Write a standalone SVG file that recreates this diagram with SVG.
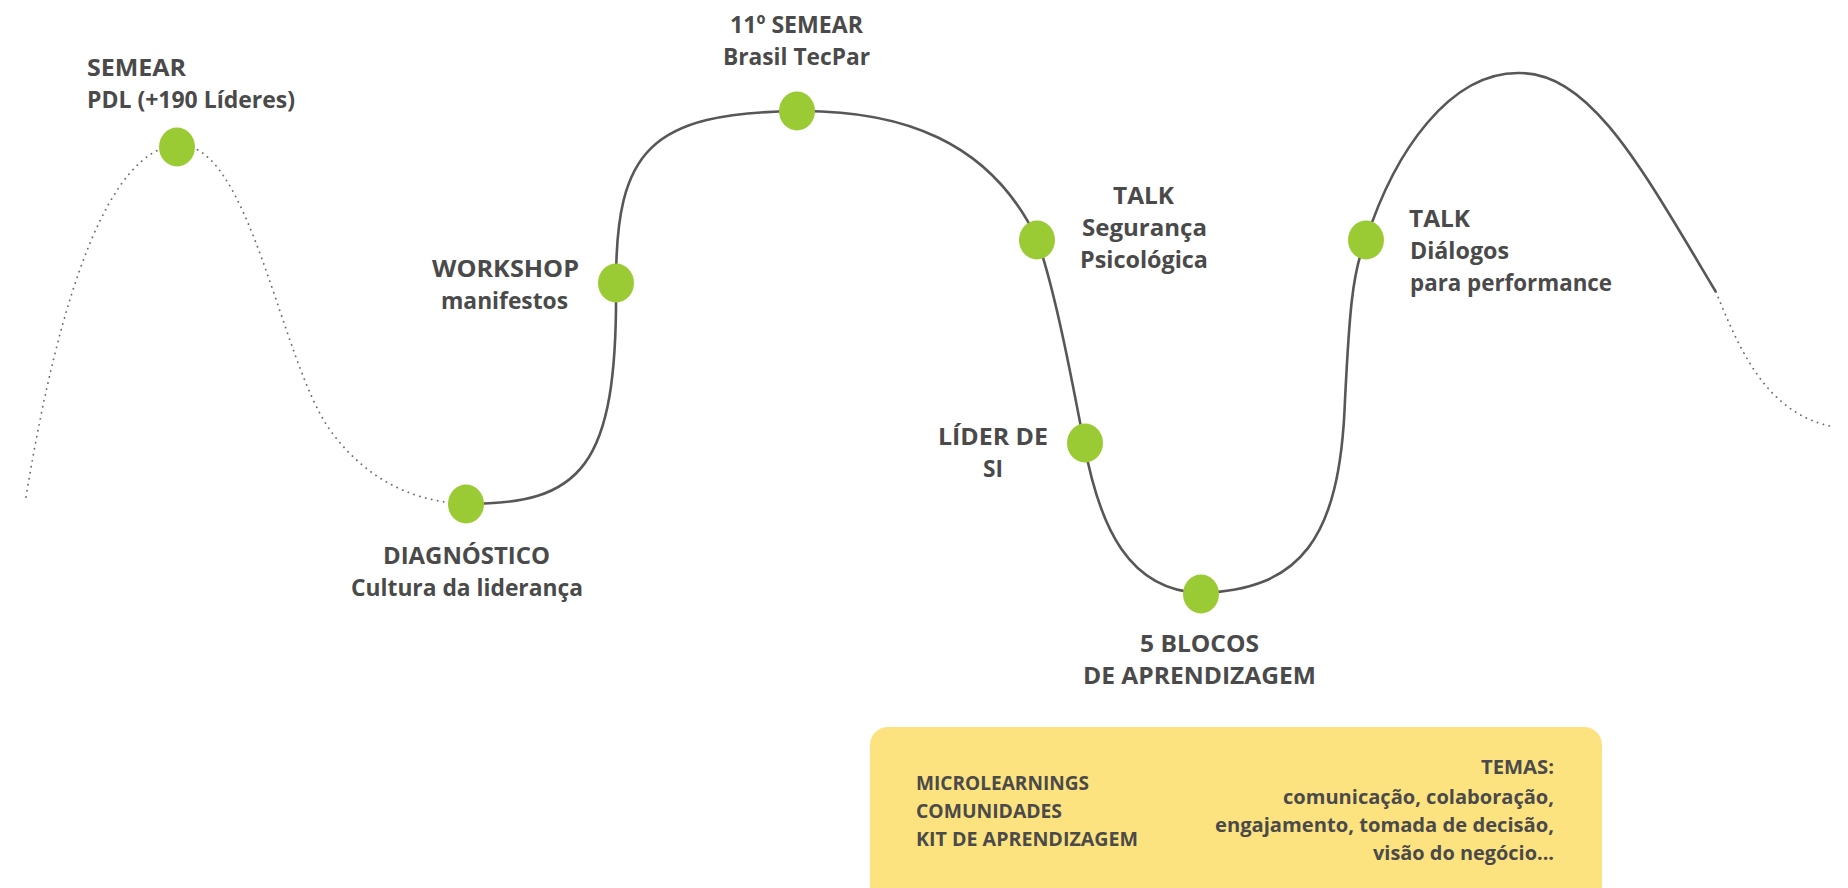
<svg xmlns="http://www.w3.org/2000/svg" width="1848" height="888" viewBox="0 0 1848 888">
<style>
.lbl{font-family:"Open Sans","Liberation Sans",sans-serif;font-weight:700;font-size:24px;fill:#4a4a4a}
.box{font-family:"Open Sans","Liberation Sans",sans-serif;font-weight:700;font-size:20px;fill:#4a4a4a}
.dot{fill:#9bcb34}
.solid{fill:none;stroke:#575757;stroke-width:2.6}
.dotted{fill:none;stroke:#6a6a6a;stroke-width:1.8;stroke-dasharray:0.1 6;stroke-linecap:round}
</style>
<rect width="1848" height="888" fill="#ffffff"/>
<g id="connectors">
<path class="dotted" d="M26,497 C60,290 110,150 177,145 C250,140 280,360 330,430 C370,485 420,502 466,504"/>
<path class="solid" d="M466,504 C580,504 618,470 616,283 C616,150 650,113 797,111 C900,110 990,140 1037,239 C1055,290 1072,380 1084,443 C1100,530 1130,590 1200,593 C1300,590 1340,540 1345,400 C1349,320 1352,270 1366,240 C1395,150 1450,73 1518,73 C1590,72 1640,165 1716,292"/>
<path class="dotted" d="M1716,292 C1738,345 1765,415 1835,427"/>
</g>
<g id="n-semear">
<ellipse class="dot" cx="177" cy="147" rx="18" ry="19.5"/>
<text class="lbl" x="87" y="76" textLength="99" lengthAdjust="spacingAndGlyphs">SEMEAR</text>
<text class="lbl" x="87" y="108" textLength="208" lengthAdjust="spacingAndGlyphs">PDL (+190 Líderes)</text>
</g>
<g id="n-diagnostico">
<ellipse class="dot" cx="466" cy="504" rx="18" ry="19.5"/>
<text class="lbl" x="383" y="564" textLength="167" lengthAdjust="spacingAndGlyphs">DIAGNÓSTICO</text>
<text class="lbl" x="351" y="596" textLength="232" lengthAdjust="spacingAndGlyphs">Cultura da liderança</text>
</g>
<g id="n-workshop">
<ellipse class="dot" cx="616" cy="283" rx="18" ry="19.5"/>
<text class="lbl" x="432" y="277" textLength="147" lengthAdjust="spacingAndGlyphs">WORKSHOP</text>
<text class="lbl" x="441" y="309" textLength="127" lengthAdjust="spacingAndGlyphs">manifestos</text>
</g>
<g id="n-11semear">
<ellipse class="dot" cx="797" cy="111" rx="18" ry="19.5"/>
<text class="lbl" x="730" y="33" textLength="133" lengthAdjust="spacingAndGlyphs">11º SEMEAR</text>
<text class="lbl" x="723" y="65" textLength="147" lengthAdjust="spacingAndGlyphs">Brasil TecPar</text>
</g>
<g id="n-talk-seguranca">
<ellipse class="dot" cx="1037" cy="240" rx="18" ry="19.5"/>
<text class="lbl" x="1113" y="204" textLength="61" lengthAdjust="spacingAndGlyphs">TALK</text>
<text class="lbl" x="1082" y="236" textLength="125" lengthAdjust="spacingAndGlyphs">Segurança</text>
<text class="lbl" x="1080" y="268" textLength="128" lengthAdjust="spacingAndGlyphs">Psicológica</text>
</g>
<g id="n-lider">
<ellipse class="dot" cx="1085" cy="443" rx="18" ry="19.5"/>
<text class="lbl" x="938" y="445" textLength="110" lengthAdjust="spacingAndGlyphs">LÍDER DE</text>
<text class="lbl" x="983" y="477" textLength="20" lengthAdjust="spacingAndGlyphs">SI</text>
</g>
<g id="n-blocos">
<ellipse class="dot" cx="1201" cy="594" rx="18" ry="19.5"/>
<text class="lbl" x="1140" y="652" textLength="119" lengthAdjust="spacingAndGlyphs">5 BLOCOS</text>
<text class="lbl" x="1083" y="684" textLength="233" lengthAdjust="spacingAndGlyphs">DE APRENDIZAGEM</text>
</g>
<g id="n-talk-dialogos">
<ellipse class="dot" cx="1366" cy="240" rx="18" ry="19.5"/>
<text class="lbl" x="1409" y="227" textLength="61" lengthAdjust="spacingAndGlyphs">TALK</text>
<text class="lbl" x="1410" y="259" textLength="99" lengthAdjust="spacingAndGlyphs">Diálogos</text>
<text class="lbl" x="1410" y="291" textLength="202" lengthAdjust="spacingAndGlyphs">para performance</text>
</g>
<g id="n-box">
<rect x="870" y="727" width="732" height="180" rx="18" fill="#fde37f"/>
<text class="box" x="916" y="790" textLength="173" lengthAdjust="spacingAndGlyphs">MICROLEARNINGS</text>
<text class="box" x="916" y="818" textLength="146" lengthAdjust="spacingAndGlyphs">COMUNIDADES</text>
<text class="box" x="916" y="846" textLength="222" lengthAdjust="spacingAndGlyphs">KIT DE APRENDIZAGEM</text>
<text class="box" x="1481" y="774" textLength="73" lengthAdjust="spacingAndGlyphs">TEMAS:</text>
<text class="box" x="1283" y="804" textLength="271" lengthAdjust="spacingAndGlyphs">comunicação, colaboração,</text>
<text class="box" x="1215" y="832" textLength="339" lengthAdjust="spacingAndGlyphs">engajamento, tomada de decisão,</text>
<text class="box" x="1373" y="860" textLength="181" lengthAdjust="spacingAndGlyphs">visão do negócio...</text>
</g>
</svg>
